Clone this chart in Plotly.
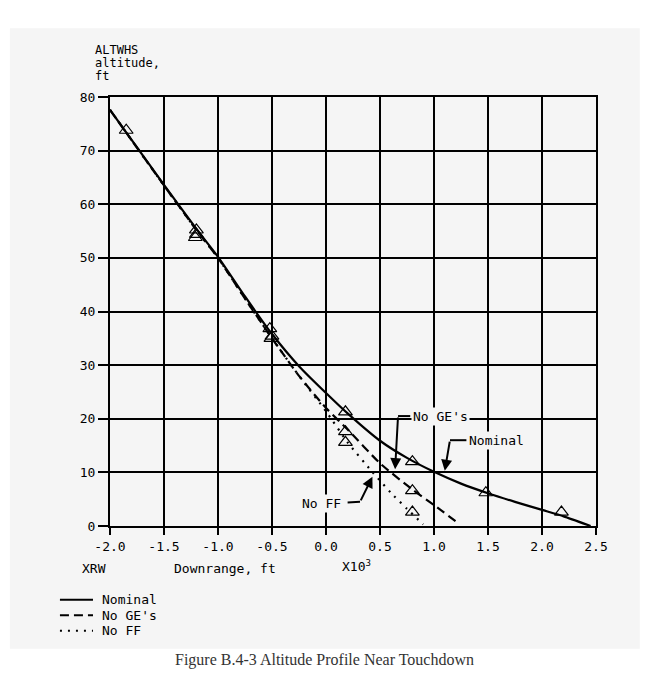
import plotly.graph_objects as go

# altitude profile near touchdown
# downrange in thousands of ft, altitude in ft
nom_x = [-2.0, -1.8, -1.5, -1.2, -1.0, -0.75, -0.5, -0.25, 0.0, 0.2, 0.5, 0.75, 1.0, 1.25, 1.5, 1.75, 2.0, 2.2, 2.45]
nom_y = [77.6, 72.0, 63.6, 55.4, 50.2, 42.8, 35.8, 29.8, 24.8, 21.0, 15.9, 12.7, 10.1, 7.9, 6.1, 4.5, 3.0, 1.8, 0.0]

nge_x = [-2.0, -1.5, -1.2, -1.0, -0.75, -0.5, -0.25, 0.0, 0.2, 0.5, 0.8, 1.0, 1.22]
nge_y = [77.6, 63.5, 55.2, 50.0, 42.4, 35.0, 28.0, 22.0, 18.0, 11.7, 6.8, 3.9, 0.6]

nff_x = [-2.0, -1.5, -1.2, -1.0, -0.75, -0.5, -0.25, 0.0, 0.2, 0.42, 0.6, 0.75, 0.9]
nff_y = [77.6, 63.5, 55.2, 50.0, 42.4, 35.0, 28.0, 21.4, 15.6, 10.3, 6.2, 3.2, 0.3]

# triangle symbols (simulation check points)
tri_nom_x = [-1.85, -1.2, -0.52, 0.18, 0.8, 1.48, 2.18]
tri_nom_y = [73.8, 55.2, 36.8, 21.3, 12.0, 6.2, 2.6]
tri_nge_x = [-1.2, -0.5, 0.18, 0.8]
tri_nge_y = [54.4, 35.4, 17.6, 6.6]
tri_nff_x = [-1.21, -0.51, 0.18, 0.8]
tri_nff_y = [53.8, 35.0, 15.6, 2.6]

x_ticks = [-2.0, -1.5, -1.0, -0.5, 0.0, 0.5, 1.0, 1.5, 2.0, 2.5]
y_ticks = [0, 10, 20, 30, 40, 50, 60, 70, 80]

series_names = ["Nominal", "No GE's", "No FF"]

MONO = "DejaVu Sans Mono"
PANEL = "#f5f5f5"

fig = go.Figure()
fig.add_trace(go.Scatter(x=nom_x, y=nom_y, mode="lines", name=series_names[0],
                         line=dict(color="black", width=2.2, shape="spline", smoothing=0.6)))
fig.add_trace(go.Scatter(x=nge_x, y=nge_y, mode="lines", name=series_names[1],
                         line=dict(color="black", width=2.2, dash="9px,5px", shape="spline", smoothing=0.6)))
fig.add_trace(go.Scatter(x=nff_x, y=nff_y, mode="lines", name=series_names[2],
                         line=dict(color="black", width=2.2, dash="2px,6px", shape="spline", smoothing=0.6)))
for tx, ty in [(tri_nom_x, tri_nom_y), (tri_nge_x, tri_nge_y), (tri_nff_x, tri_nff_y)]:
    fig.add_trace(go.Scatter(x=tx, y=ty, mode="markers", showlegend=False,
                             marker=dict(symbol="triangle-up-open", size=12,
                                         color="black", line=dict(width=1.2))))

fig.update_xaxes(range=[-2.0, 2.5], tickvals=x_ticks, ticktext=["%.1f" % v for v in x_ticks],
                 showgrid=True, gridcolor="black", gridwidth=1.5,
                 showline=True, linecolor="black", linewidth=2, mirror=True,
                 ticks="outside", ticklen=7, tickwidth=1.5, tickcolor="black",
                 zeroline=False, tickfont=dict(family=MONO, size=13, color="black"))
fig.update_yaxes(range=[0, 80], tickvals=y_ticks,
                 showgrid=True, gridcolor="black", gridwidth=1.5,
                 showline=True, linecolor="black", linewidth=2, mirror=True,
                 ticks="outside", ticklen=10, tickwidth=1.5, tickcolor="black",
                 zeroline=False, tickfont=dict(family=MONO, size=13, color="black"))

# scanned page panel
fig.add_shape(type="rect", xref="paper", yref="paper", x0=-0.206, x1=1.09, y0=-0.286, y1=1.16,
              fillcolor=PANEL, line=dict(width=0), layer="below")

ann = []
# y axis title (three lines)
for i, t in enumerate(["ALTWHS", "altitude,", "ft"]):
    ann.append(dict(xref="paper", yref="paper", x=-0.035, y=1.11 - i * 0.03, text=t,
                    showarrow=False, xanchor="left", yanchor="middle",
                    font=dict(family=MONO, size=12, color="black")))
# x axis labels
ann.append(dict(xref="paper", yref="paper", x=-0.062, y=-0.098, text="XRW", showarrow=False,
                xanchor="left", yanchor="middle", font=dict(family=MONO, size=13, color="black")))
ann.append(dict(xref="paper", yref="paper", x=0.128, y=-0.098, text="Downrange, ft", showarrow=False,
                xanchor="left", yanchor="middle", font=dict(family=MONO, size=13, color="black")))
ann.append(dict(xref="paper", yref="paper", x=0.473, y=-0.093, text="X10<sup>3</sup>", showarrow=False,
                xanchor="left", yanchor="middle", font=dict(family=MONO, size=13, color="black")))

# curve call-outs
ann.append(dict(x=0.79, y=20.4, text="No GE's", showarrow=False, xanchor="left", yanchor="middle",
                bgcolor=PANEL, font=dict(family=MONO, size=13, color="black")))
ann.append(dict(x=1.31, y=16.0, text="Nominal", showarrow=False, xanchor="left", yanchor="middle",
                bgcolor=PANEL, font=dict(family=MONO, size=13, color="black")))
ann.append(dict(x=0.16, y=4.2, text="No FF", showarrow=False, xanchor="right", yanchor="middle",
                bgcolor=PANEL, font=dict(family=MONO, size=13, color="black")))
arrows = [((0.667, 20.5), (0.64, 10.6)), ((1.148, 16.0), (1.10, 10.3)), ((0.315, 4.5), (0.43, 9.2))]
for (cx, cy), (hx, hy) in arrows:
    ann.append(dict(x=hx, y=hy, ax=cx, ay=cy, axref="x", ayref="y", text="", showarrow=True,
                    arrowhead=2, arrowsize=1.1, arrowwidth=2, arrowcolor="black"))
fig.add_shape(type="line", x0=0.667, x1=0.78, y0=20.5, y1=20.5, line=dict(color="black", width=2))
fig.add_shape(type="line", x0=1.148, x1=1.30, y0=16.0, y1=16.0, line=dict(color="black", width=2))
fig.add_shape(type="line", x0=0.2, x1=0.315, y0=4.4, y1=4.5, line=dict(color="black", width=2))

# legend key
for i, (name, dash) in enumerate(zip(series_names, ["solid", "9px,5px", "2px,6px"])):
    yy = -0.172 - i * 0.036
    fig.add_shape(type="line", xref="paper", yref="paper", x0=-0.103, x1=-0.035, y0=yy, y1=yy,
                  line=dict(color="black", width=2, dash=dash))
    ann.append(dict(xref="paper", yref="paper", x=-0.02, y=yy, text=name, showarrow=False,
                    xanchor="left", yanchor="middle", font=dict(family=MONO, size=13, color="black")))

# caption
ann.append(dict(xref="paper", yref="paper", x=0.442, y=-0.313, text="Figure B.4-3 Altitude Profile Near Touchdown",
                showarrow=False, xanchor="center", yanchor="middle",
                font=dict(family="Liberation Serif", size=16, color="#333333")))

# page body adds an 8px offset, so the figure is drawn 8px smaller
fig.update_layout(width=660, height=680, margin=dict(l=102, r=72, t=89, b=162),
                  paper_bgcolor="white", plot_bgcolor=PANEL, showlegend=False,
                  annotations=ann)

fig.write_html("out.html")
